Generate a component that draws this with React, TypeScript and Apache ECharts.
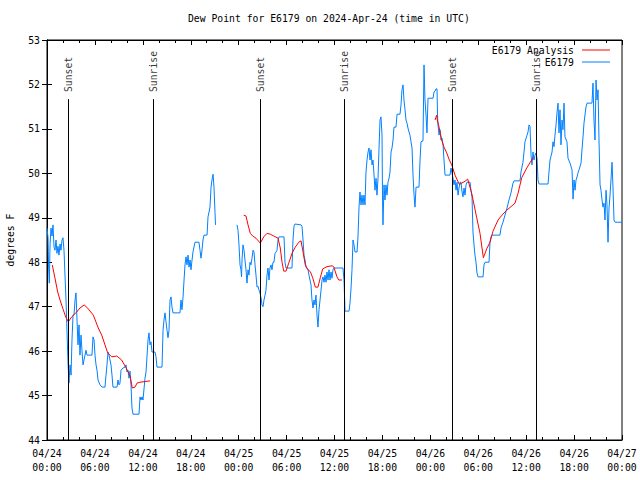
import React, { useEffect, useRef } from 'react';
import * as echarts from 'echarts';

const FONT = "'DejaVu Sans Mono', 'Liberation Mono', monospace";
const FS = 9.75;

const titleText = 'Dew Point for E6179 on 2024-Apr-24 (time in UTC)';
const yAxisName = 'degrees F';
const obsName = 'E6179';
const analysisName = 'E6179 Analysis';
const startMonth = '04';
const startDay = 24;

// x in hours since 2024-04-24 00:00 UTC
const xMin = 0;
const xMax = 72;
const xStep = 6;
const yMin = 44;
const yMax = 53;

const sunEventHours = [2.67, 13.31, 26.71, 37.28, 50.75, 61.27];
const sunEventNames = ['Sunset', 'Sunrise', 'Sunset', 'Sunrise', 'Sunset', 'Sunrise'];
const sunLineTop = 51.67;
const sunLabelBase = 51.83;

const obsPart1: [number, number][] = [
  [0, 48.77], [0.13, 48.55], [0.19, 47.94], [0.29, 47.53], [0.38, 48.39], [0.5, 48.77], [0.63, 48.59], [0.75, 48.84], [0.88, 48.34], [1.0, 48.27], [1.13, 48.5], [1.25, 48.2], [1.38, 48.36], [1.5, 48.16], [1.63, 48.41], [1.75, 48.27], [1.88, 48.5], [2.0, 48.55], [2.13, 48.27], [2.25, 47.71], [2.38, 47.15], [2.5, 46.47], [2.63, 45.73], [2.75, 45.28], [2.88, 45.69], [3.01, 45.46], [3.13, 46.25], [3.26, 46.81], [3.38, 46.81], [3.51, 47.15], [3.63, 47.31], [3.76, 46.7], [3.88, 46.14], [4.01, 46.59], [4.13, 45.91], [4.26, 46.36], [4.38, 46.02], [4.51, 45.69], [4.76, 45.91], [4.88, 46.02], [5.01, 45.91], [5.63, 45.91], [5.76, 46.32], [5.89, 46.25], [6.01, 45.91], [6.14, 45.69], [6.26, 45.57], [6.39, 45.35], [6.64, 45.24], [6.89, 45.19], [7.26, 45.19], [7.39, 45.46], [7.51, 45.69], [7.64, 45.98], [7.76, 45.91], [7.89, 45.8], [8.01, 45.69], [8.14, 45.46], [8.26, 45.19], [8.77, 45.19], [8.89, 45.35], [9.02, 45.24], [9.14, 45.28], [9.27, 45.57], [9.52, 45.62], [9.77, 45.64], [9.89, 45.69], [10.02, 45.53], [10.14, 45.57], [10.27, 45.39], [10.39, 45.55], [10.52, 45.24], [10.64, 44.72], [10.77, 44.58], [11.52, 44.58], [11.65, 44.97], [11.77, 44.9], [11.9, 44.97], [12.02, 44.9], [12.27, 45.39], [12.4, 45.53], [12.52, 45.87], [12.65, 46.25], [12.77, 46.41], [12.9, 46.14], [13.02, 46.21], [13.15, 45.98], [13.52, 45.98], [13.65, 45.87], [13.77, 45.64], [14.4, 45.64], [14.53, 46.47], [14.65, 46.7], [14.78, 46.86], [14.9, 46.66], [15.03, 46.47], [15.15, 46.3], [15.28, 46.47], [15.4, 47.15], [15.53, 47.22], [15.65, 46.99], [15.78, 46.86], [16.65, 46.86], [16.78, 47.15], [16.9, 46.93], [17.03, 47.2], [17.16, 47.6], [17.28, 47.94], [17.41, 48.12], [17.53, 47.94], [17.66, 48.16], [17.78, 47.89], [17.91, 48.05], [18.03, 47.83], [18.16, 48.05], [18.28, 48.23], [18.53, 48.45], [19.03, 48.45], [19.16, 48.27], [19.28, 48.09], [19.41, 48.27], [19.53, 48.5], [19.66, 48.61], [20.04, 48.61], [20.16, 49.02], [20.29, 49.13], [20.41, 49.24], [20.54, 49.69], [20.66, 49.85], [20.79, 49.98], [20.91, 49.69], [21.04, 49.11], [21.1, 48.84],
];

const obsPart2: [number, number][] = [
  [23.79, 48.84], [23.92, 48.72], [24.04, 48.39], [24.17, 47.94], [24.29, 47.83], [24.36, 47.67], [24.42, 48.05], [24.54, 48.39], [24.67, 48.27], [24.79, 48.05], [24.92, 47.83], [25.04, 47.53], [25.17, 47.83], [25.29, 47.71], [25.42, 48.0], [25.54, 47.94], [25.67, 48.09], [25.8, 48.27], [25.92, 48.23], [26.05, 47.94], [26.17, 47.71], [26.3, 47.44], [26.42, 47.46], [26.55, 47.37], [26.67, 47.31], [26.8, 47.2], [26.92, 47.04], [27.05, 47.0], [27.17, 47.15], [27.3, 47.26], [27.42, 47.37], [27.55, 47.71], [27.67, 47.87], [27.8, 47.6], [27.92, 47.87], [28.05, 47.94], [28.17, 47.83], [28.3, 48.0], [28.42, 48.0], [28.55, 48.2], [28.68, 48.23], [28.8, 48.27], [28.93, 48.5], [29.05, 48.57], [29.68, 48.57], [29.8, 48.0], [29.93, 47.87], [30.68, 47.87], [30.8, 48.5], [30.93, 48.81], [31.05, 48.86], [31.81, 48.84], [31.93, 48.81], [32.06, 48.5], [32.18, 48.16], [32.31, 48.05], [32.43, 47.89], [32.68, 47.83], [32.81, 47.71], [32.93, 47.6], [33.06, 47.49], [33.18, 47.15], [33.31, 46.97], [33.43, 47.15], [33.56, 47.04], [33.68, 47.26], [33.81, 46.81], [33.93, 46.54], [34.06, 46.93], [34.19, 47.15], [34.31, 47.37], [34.44, 47.6], [34.56, 47.67], [34.69, 47.55], [34.81, 47.71], [34.94, 47.55], [35.06, 47.78], [35.19, 47.6], [35.31, 47.83], [35.44, 47.6], [35.56, 47.78], [35.69, 47.64], [35.81, 47.83], [35.94, 47.87], [37.06, 47.87], [37.19, 47.6], [37.32, 46.9], [37.82, 46.9], [37.94, 47.08], [38.07, 47.42], [38.19, 47.83], [38.32, 48.5], [38.44, 48.39], [38.57, 48.23], [38.82, 48.23], [38.94, 48.57], [39.07, 49.24], [39.19, 49.58], [39.32, 49.29], [39.44, 49.51], [39.57, 49.29], [39.69, 49.51], [39.82, 49.29], [39.94, 50.01], [40.07, 50.3], [40.2, 50.48], [40.32, 50.57], [40.45, 50.3], [40.57, 50.53], [40.7, 50.19], [40.82, 50.3], [40.95, 49.96], [41.07, 49.62], [41.2, 49.89], [41.32, 49.51], [41.45, 49.89], [41.57, 50.53], [41.7, 51.2], [41.82, 51.27], [41.95, 50.86], [42.01, 49.51], [42.07, 48.84], [42.2, 49.74], [42.32, 49.4], [42.45, 49.74], [42.57, 49.51], [42.7, 49.8], [42.83, 49.89], [42.95, 50.03], [43.08, 50.48], [43.2, 50.57], [43.33, 50.75], [43.45, 51.04], [43.7, 51.04], [43.83, 51.33], [44.2, 51.33], [44.33, 51.54], [44.45, 51.88], [44.58, 51.99], [44.7, 51.65], [44.83, 51.43], [44.95, 51.2], [45.08, 51.13], [45.2, 51.02], [45.33, 50.93], [45.45, 50.86], [45.58, 50.71], [45.71, 50.57], [45.83, 49.96], [45.96, 49.51], [46.08, 49.24], [46.21, 49.69], [46.58, 49.69], [46.71, 50.3], [46.83, 50.71], [47.08, 50.73], [47.21, 52.44], [47.33, 51.65], [47.46, 51.31], [47.58, 50.91], [47.71, 51.69], [48.34, 51.69], [48.46, 51.83], [48.59, 51.85], [48.71, 51.9], [48.84, 51.9], [48.9, 51.31], [48.96, 51.09], [49.09, 50.86], [49.21, 50.98], [49.34, 50.75], [49.46, 50.79], [49.59, 50.64], [49.71, 50.3], [49.84, 49.96], [50.46, 49.96], [50.59, 50.12], [50.71, 50.01], [50.84, 49.89], [50.96, 49.74], [51.09, 49.85], [51.22, 49.62], [51.34, 49.8], [51.47, 49.51], [51.59, 49.67], [51.72, 49.8], [51.84, 49.8], [51.97, 49.58], [52.09, 49.47], [52.22, 49.67], [52.34, 49.51], [52.47, 49.74], [52.59, 49.8], [52.97, 49.8], [53.09, 49.62], [53.22, 49.47], [53.34, 48.68], [53.47, 48.39], [53.59, 48.16], [53.72, 48.0], [53.84, 47.76], [53.97, 47.67], [54.6, 47.67], [54.72, 47.94], [54.85, 48.0], [55.35, 48.0], [55.47, 48.45], [55.6, 48.57], [55.72, 48.61], [56.72, 48.61], [56.85, 48.77], [57.1, 48.9], [57.35, 49.06], [57.6, 49.22], [57.85, 49.4], [58.1, 49.56], [58.35, 49.78], [58.48, 49.83], [59.23, 49.83], [59.35, 50.03], [59.6, 50.25], [59.73, 50.48], [59.85, 50.71], [60.11, 50.86], [60.23, 50.93], [60.36, 51.09], [60.48, 51.06], [60.61, 50.41], [60.73, 50.19], [60.86, 50.48], [60.98, 50.3], [61.11, 50.41], [61.23, 50.46], [61.36, 50.34], [61.48, 49.85], [61.61, 49.76], [62.74, 49.76], [62.86, 50.03], [62.99, 50.3], [63.24, 50.48], [63.36, 50.71], [63.49, 50.6], [63.61, 50.86], [63.74, 51.09], [63.86, 51.36], [63.99, 51.58], [64.11, 50.91], [64.24, 51.43], [64.36, 50.64], [64.49, 51.2], [64.61, 50.98], [64.74, 51.58], [64.86, 50.82], [65.11, 50.71], [65.24, 50.34], [65.49, 50.23], [65.74, 50.08], [65.87, 49.42], [65.99, 49.85], [66.12, 49.62], [66.24, 49.85], [66.37, 49.92], [66.49, 50.01], [66.62, 50.08], [66.87, 50.23], [66.99, 50.53], [67.12, 50.82], [67.24, 51.13], [67.49, 51.49], [67.62, 51.58], [68.24, 51.58], [68.37, 52.03], [68.49, 51.2], [68.62, 50.75], [68.75, 52.1], [68.87, 51.65], [69.0, 51.88], [69.12, 50.75], [69.25, 49.74], [69.37, 49.62], [69.5, 49.4], [69.62, 49.24], [69.75, 49.33], [69.87, 48.95], [70.0, 49.62], [70.12, 49.29], [70.25, 48.45], [70.37, 49.2], [70.5, 49.51], [70.62, 49.85], [70.75, 50.25], [70.87, 49.69], [71.0, 48.95], [71.13, 48.9], [72.0, 48.9],
];

const analysisPart1: [number, number][] = [
  [0.66, 47.94], [1.0, 47.64], [1.34, 47.33], [1.63, 47.15], [2.04, 46.93], [2.34, 46.77], [2.67, 46.66], [3.09, 46.77], [3.72, 46.88], [4.13, 46.97], [4.67, 47.04], [5.17, 46.95], [5.8, 46.81], [6.42, 46.52], [6.85, 46.36], [7.26, 46.14], [7.6, 45.96], [8.1, 45.87], [8.73, 45.89], [9.35, 45.8], [9.85, 45.64], [10.39, 45.45], [10.68, 45.17], [11.02, 45.19], [11.27, 45.28], [11.65, 45.3], [12.9, 45.33],
];

const analysisPart2: [number, number][] = [
  [24.63, 49.06], [24.92, 49.04], [25.17, 48.84], [25.46, 48.65], [25.76, 48.59], [26.17, 48.54], [26.71, 48.43], [27.14, 48.57], [27.55, 48.65], [27.96, 48.63], [28.39, 48.59], [28.93, 48.54], [29.21, 48.32], [29.43, 48.0], [29.64, 47.8], [29.93, 47.8], [30.27, 47.98], [30.68, 48.2], [31.09, 48.34], [31.52, 48.45], [31.81, 48.48], [32.02, 48.27], [32.34, 47.94], [32.68, 47.83], [32.97, 47.79], [33.27, 47.65], [33.6, 47.44], [33.93, 47.44], [34.22, 47.65], [34.52, 47.85], [35.06, 47.9], [35.69, 47.92], [35.9, 47.9], [36.31, 47.67], [36.53, 47.6], [36.94, 47.6],
];

const analysisPart3: [number, number][] = [
  [48.59, 51.2], [48.8, 51.31], [48.87, 51.2], [49.12, 51.02], [49.42, 50.75], [49.71, 50.59], [50.05, 50.46], [50.38, 50.3], [50.68, 50.19], [51.09, 49.96], [51.63, 49.75], [51.93, 49.78], [52.34, 49.82], [52.68, 49.87], [53.18, 49.55], [53.81, 49.0], [54.22, 48.65], [54.64, 48.1], [55.06, 48.3], [55.47, 48.45], [55.85, 48.7], [56.48, 48.95], [56.98, 49.06], [57.56, 49.17], [58.1, 49.25], [58.6, 49.33], [58.98, 49.55], [59.44, 49.9], [60.07, 50.12], [60.69, 50.3], [60.9, 50.35],
];

const RED = '#ff0000';
const BLUE = '#0080ff';

function xLabel(v: number): string {
  const day = startDay + Math.floor(v / 24);
  const hh = v % 24;
  return `${startMonth}/${day}\n${String(hh).padStart(2, '0')}:00`;
}

export default function App() {
  const ref = useRef<HTMLDivElement>(null);
  useEffect(() => {
    const chart = echarts.init(ref.current!, null, { renderer: 'svg' });
    const tickCommon = {
      axisLine: { show: true, lineStyle: { color: '#000', width: 1 } },
      splitLine: { show: false },
    };
    const lineSeries = (name: string, data: [number, number][], color: string, z: number) => ({
      type: 'line',
      name,
      data,
      showSymbol: false,
      symbol: 'none',
      lineStyle: { color, width: 1 },
      itemStyle: { color },
      z,
      silent: true,
    });
    const option: any = {
      animation: false,
      backgroundColor: '#fff',
      textStyle: { fontFamily: FONT, fontSize: FS, color: '#000' },
      title: {
        text: titleText,
        left: 188,
        top: 13,
        padding: 0,
        textStyle: { fontFamily: FONT, fontSize: FS, fontWeight: 'normal', color: '#000' },
      },
      grid: {
        left: 47,
        right: 18,
        top: 40,
        bottom: 40,
        containLabel: false,
        outerBoundsMode: 'none',
        show: true,
        borderColor: '#000',
        borderWidth: 1,
      },
      xAxis: [
        {
          type: 'value',
          min: xMin,
          max: xMax,
          interval: xStep,
          ...tickCommon,
          axisTick: { show: true, inside: true, length: 5, lineStyle: { color: '#000' } },
          minorTick: { show: true, splitNumber: 3, length: 3, lineStyle: { color: '#000' } },
          axisLabel: {
            formatter: xLabel,
            fontFamily: FONT,
            fontSize: FS,
            color: '#000',
            lineHeight: 14,
            margin: 6,
            showMinLabel: true,
            showMaxLabel: true,
          },
        },
        {
          type: 'value',
          position: 'top',
          min: xMin,
          max: xMax,
          interval: xStep,
          ...tickCommon,
          axisTick: { show: true, inside: true, length: 5, lineStyle: { color: '#000' } },
          minorTick: { show: true, splitNumber: 3, length: 3, lineStyle: { color: '#000' } },
          axisLabel: { show: false },
        },
      ],
      yAxis: [
        {
          type: 'value',
          min: yMin,
          max: yMax,
          interval: 1,
          ...tickCommon,
          axisTick: { show: true, inside: true, length: 5, lineStyle: { color: '#000' } },
          axisLabel: { fontFamily: FONT, fontSize: FS, color: '#000', margin: 7 },
          name: yAxisName,
          nameLocation: 'middle',
          nameRotate: 90,
          nameGap: 32,
          nameTextStyle: { fontFamily: FONT, fontSize: FS, color: '#000' },
        },
        {
          type: 'value',
          position: 'right',
          min: yMin,
          max: yMax,
          interval: 1,
          ...tickCommon,
          axisTick: { show: true, inside: true, length: 5, lineStyle: { color: '#000' } },
          axisLabel: { show: false },
        },
      ],
      series: [
        {
          type: 'scatter',
          name: 'sun',
          data: sunEventHours.map((h) => [h, sunLabelBase]),
          symbolSize: 0,
          silent: true,
          z: 1,
          label: {
            show: true,
            position: 'inside',
            rotate: 90,
            align: 'left',
            verticalAlign: 'middle',
            fontFamily: FONT,
            fontSize: FS,
            color: '#000',
            textBorderWidth: 0,
            formatter: (p: any) => sunEventNames[p.dataIndex],
          },
          markLine: {
            silent: true,
            symbol: 'none',
            label: { show: false },
            lineStyle: { color: '#000', width: 1, type: 'solid' },
            data: sunEventHours.map((h) => [{ coord: [h, yMin] }, { coord: [h, sunLineTop] }]),
          },
        },
        lineSeries(analysisName, analysisPart1, RED, 3),
        lineSeries(analysisName, analysisPart2, RED, 3),
        lineSeries(analysisName, analysisPart3, RED, 3),
        lineSeries(obsName, obsPart1, BLUE, 2),
        lineSeries(obsName, obsPart2, BLUE, 2),
      ],
      graphic: [
        {
          type: 'text',
          x: 574,
          y: 50,
          style: { text: analysisName, align: 'right', verticalAlign: 'middle', fontFamily: FONT, fontSize: FS, fill: '#000' },
        },
        { type: 'line', shape: { x1: 582, y1: 50, x2: 610, y2: 50 }, style: { stroke: RED, lineWidth: 1 } },
        {
          type: 'text',
          x: 574,
          y: 62,
          style: { text: obsName, align: 'right', verticalAlign: 'middle', fontFamily: FONT, fontSize: FS, fill: '#000' },
        },
        { type: 'line', shape: { x1: 582, y1: 62, x2: 610, y2: 62 }, style: { stroke: BLUE, lineWidth: 1 } },
      ],
    };
    chart.setOption(option);
    return () => chart.dispose();
  }, []);
  return <div ref={ref} style={{ position: 'absolute', left: 0, top: 0, width: 640, height: 480 }} />;
}
